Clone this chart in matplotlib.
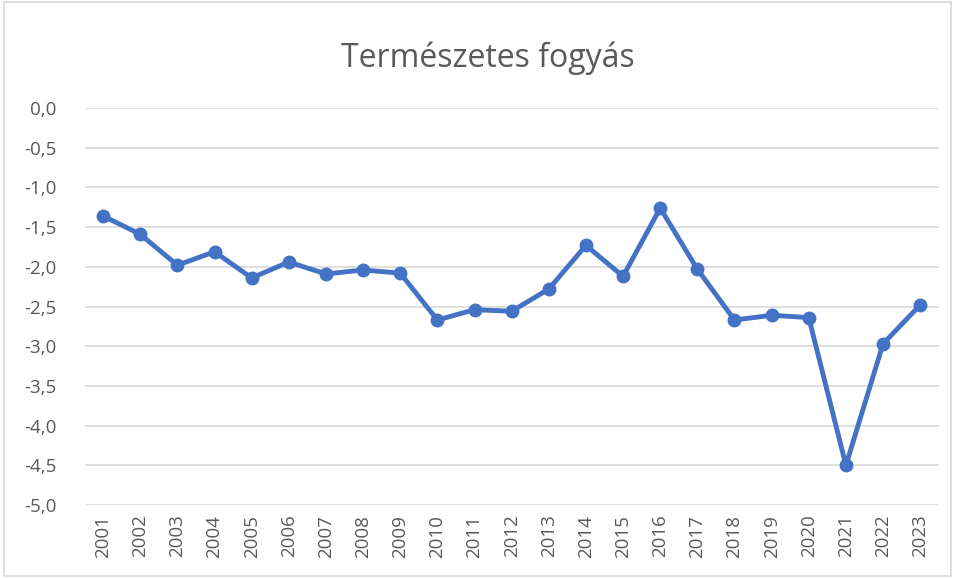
import matplotlib
matplotlib.use("Agg")
import matplotlib.pyplot as plt
from matplotlib.patches import Rectangle

years = [str(y) for y in range(2001, 2024)]
values = [-1.36, -1.59, -1.98, -1.81, -2.14, -1.94, -2.09, -2.04, -2.08, -2.67,
          -2.54, -2.56, -2.28, -1.73, -2.12, -1.26, -2.03, -2.67, -2.61, -2.64,
          -4.50, -2.97, -2.48]
yticks = [0.0, -0.5, -1.0, -1.5, -2.0, -2.5, -3.0, -3.5, -4.0, -4.5, -5.0]
title = "Természetes fogyás"

plt.rcParams['font.family'] = ['Open Sans', 'DejaVu Sans']
fig = plt.figure(figsize=(9.55, 5.78), dpi=100)
fig.patches.append(Rectangle((0.004, 0.004), 0.992, 0.992, transform=fig.transFigure,
                             fill=False, edgecolor='#d9d9d9', linewidth=1.2))
ax = fig.add_axes([0.0885, 0.1263, 0.8945, 0.6868])
x = list(range(len(years)))
ax.plot(x, values, color='#4472C4', linewidth=3.5, marker='o', markersize=9,
        markerfacecolor='#4472C4', markeredgecolor='#4472C4', zorder=3)
ax.set_xlim(-0.5, len(years) - 0.5)
ax.set_ylim(-5.0, 0.0)
ax.set_yticks(yticks)
ax.set_yticklabels([f"{v:.1f}".replace('.', ',') for v in yticks])
ax.set_xticks(x)
ax.set_xticklabels(years, rotation=90)
ax.grid(axis='y', color='#d9d9d9', linewidth=1.2)
ax.set_axisbelow(True)
for s in ax.spines.values():
    s.set_visible(False)
ax.tick_params(axis='both', length=0, colors='#595959', labelsize=13.5)
ax.tick_params(axis='y', pad=20)
ax.tick_params(axis='x', pad=7)
fig.text(0.511, 0.9, title, ha='center', va='center', fontsize=23, color='#595959')
fig.savefig('out.png', dpi=100)
